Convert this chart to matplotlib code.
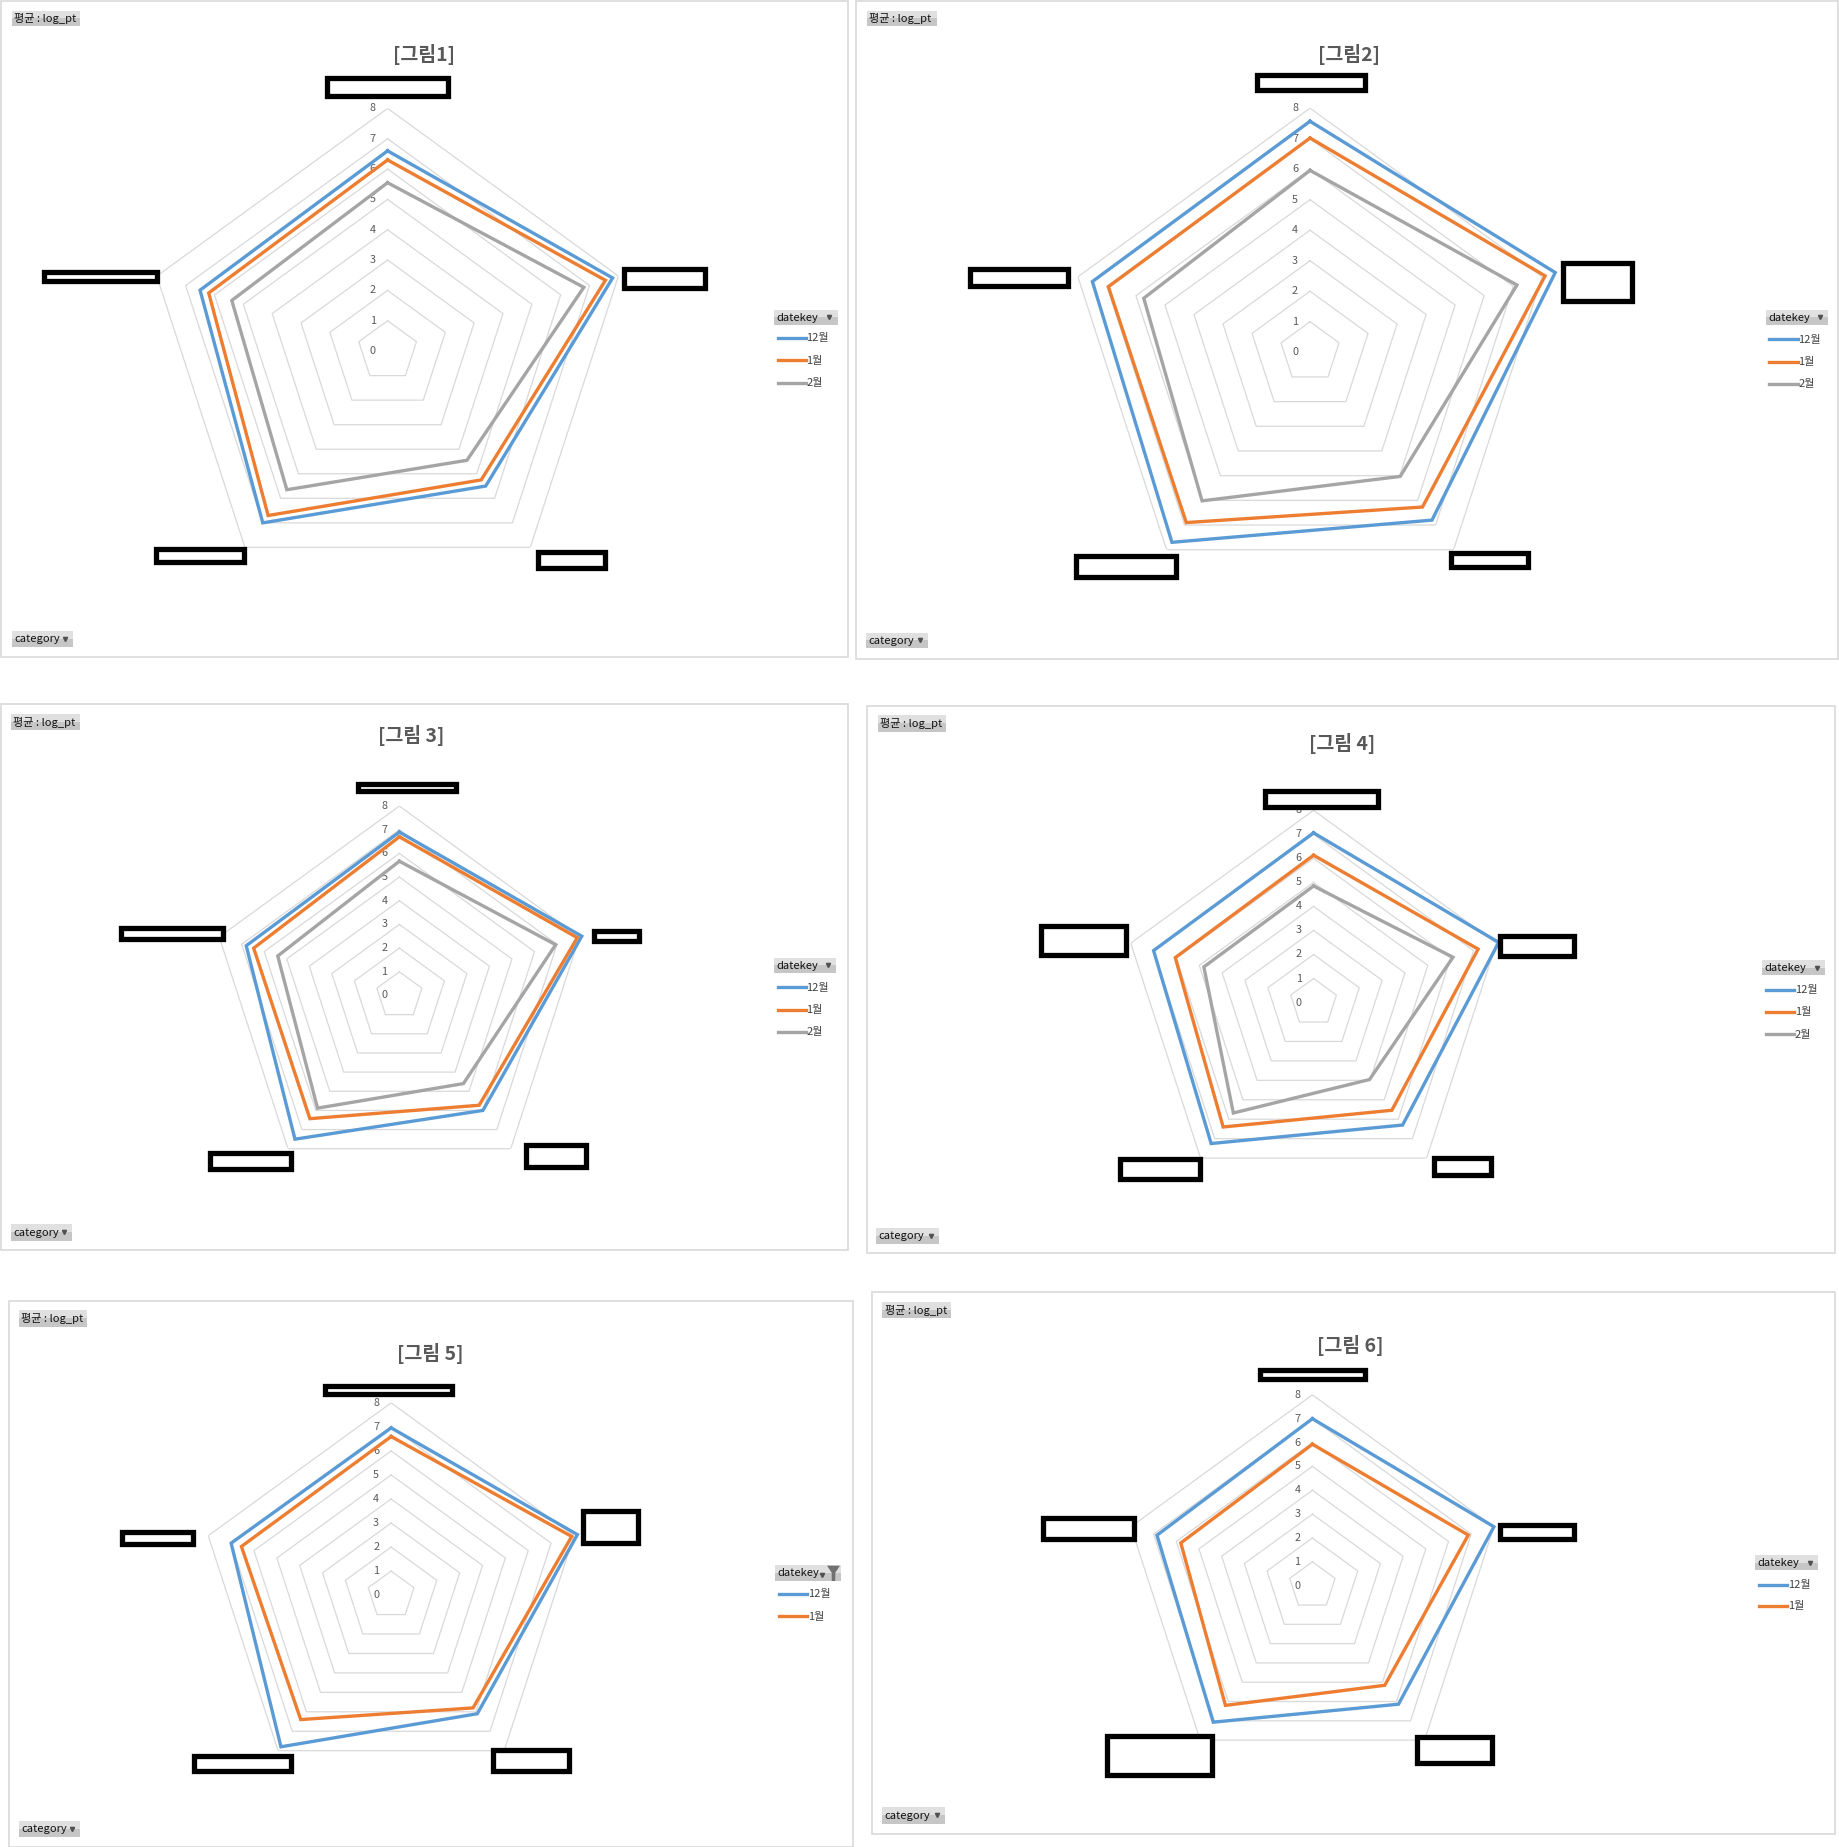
import numpy as np
import matplotlib.pyplot as plt
from matplotlib.patches import Rectangle, Polygon
from matplotlib.lines import Line2D

plt.rcParams['font.family'] = ['Noto Sans CJK KR', 'DejaVu Sans']

W, H = 1839, 1847
S = W / 1561  # layout below was measured on the 1561 px preview

months = ['12월', '1월', '2월']
colors = ['#5B9BD5', '#ED7D31', '#A5A5A5']
levels = list(range(0, 9))
titles = ['[그림1]', '[그림2]', '[그림 3]', '[그림 4]', '[그림 5]', '[그림 6]']

# avg log_pt per category, clockwise from the top axis
fig1_dec = [6.6, 7.8, 5.5, 7.0, 6.5]
fig1_jan = [6.3, 7.55, 5.25, 6.7, 6.2]
fig1_feb = [5.55, 6.8, 4.45, 5.65, 5.4]

fig2_dec = [7.57, 8.45, 6.8, 7.7, 7.5]
fig2_jan = [7.02, 8.1, 6.27, 6.9, 6.95]
fig2_feb = [5.96, 7.13, 5.03, 6.02, 5.73]

fig3_dec = [6.9, 8.1, 6.0, 7.5, 6.8]
fig3_jan = [6.7, 7.9, 5.73, 6.43, 6.47]
fig3_feb = [5.67, 6.94, 4.6, 5.88, 5.4]

fig4_dec = [7.06, 8.1, 6.3, 7.25, 7.0]
fig4_jan = [6.13, 7.2, 5.54, 6.4, 6.05]
fig4_feb = [4.85, 6.1, 3.96, 5.68, 4.8]

fig5_dec = [6.96, 8.15, 6.1, 7.8, 7.0]
fig5_jan = [6.6, 7.9, 5.8, 6.4, 6.55]

fig6_dec = [7.0, 8.0, 6.14, 7.07, 6.85]
fig6_jan = [5.93, 6.87, 5.16, 6.2, 5.8]

series = [
    [fig1_dec, fig1_jan, fig1_feb],
    [fig2_dec, fig2_jan, fig2_feb],
    [fig3_dec, fig3_jan, fig3_feb],
    [fig4_dec, fig4_jan, fig4_feb],
    [fig5_dec, fig5_jan],
    [fig6_dec, fig6_jan],
]

# panel layout in preview pixels
layout = [
    dict(frame=(1, 1, 720, 558), c=(329, 298), unit=25.75, title=(360, 46),
         pbtn=(10, 9, 68, 22), cbtn=(10, 536, 62, 549), dbtn=(657, 263, 711, 276),
         ly=[287, 306, 325], lx=660,
         hide=[(276, 65, 382, 83), (528, 227, 600, 246), (455, 467, 515, 484),
               (131, 464, 209, 479), (36, 229, 135, 240)]),
    dict(frame=(727, 1, 1560, 559), c=(1112, 299), unit=25.9, title=(1145, 46),
         pbtn=(736, 9, 795, 22), cbtn=(735, 537, 788, 550), dbtn=(1499, 263, 1552, 276),
         ly=[288, 307, 326], lx=1502,
         hide=[(1065, 62, 1160, 78), (1325, 222, 1387, 257), (1230, 468, 1299, 483),
               (912, 470, 1000, 491), (822, 227, 908, 244)]),
    dict(frame=(1, 598, 720, 1061), c=(339, 845), unit=20.1, title=(349, 624),
         pbtn=(9, 606, 68, 620), cbtn=(9, 1039, 61, 1053), dbtn=(657, 813, 710, 826),
         ly=[838, 857, 876], lx=660,
         hide=[(302, 664, 389, 673), (503, 789, 544, 800), (445, 970, 499, 992),
               (177, 977, 249, 994), (101, 786, 191, 799)]),
    dict(frame=(736, 599, 1558, 1064), c=(1115, 851), unit=20.4, title=(1139, 631),
         pbtn=(745, 607, 803, 621), cbtn=(744, 1042, 797, 1056), dbtn=(1496, 815, 1549, 828),
         ly=[840, 859, 878], lx=1499,
         hide=[(1072, 670, 1171, 687), (1272, 793, 1338, 813), (1216, 981, 1267, 999),
               (949, 982, 1020, 1002), (882, 784, 957, 812)]),
    dict(frame=(8, 1104, 724, 1568), c=(332, 1354), unit=20.4, title=(365, 1149),
         pbtn=(16, 1112, 74, 1126), cbtn=(16, 1546, 68, 1559), dbtn=(658, 1328, 714, 1342),
         ly=[1353, 1372], lx=661, funnel=True,
         hide=[(274, 1175, 385, 1185), (493, 1281, 543, 1311), (417, 1484, 485, 1505),
               (163, 1489, 249, 1505), (102, 1299, 165, 1312)]),
    dict(frame=(740, 1097, 1558, 1557), c=(1114, 1346), unit=20.25, title=(1146, 1142),
         pbtn=(749, 1105, 807, 1119), cbtn=(749, 1534, 802, 1548), dbtn=(1490, 1320, 1543, 1333),
         ly=[1345, 1363], lx=1493,
         hide=[(1068, 1161, 1160, 1172), (1272, 1293, 1338, 1308), (1201, 1473, 1268, 1498),
               (938, 1472, 1030, 1508), (884, 1287, 964, 1308)]),
]

fig = plt.figure(figsize=(W / 100, H / 100), dpi=100)


def fx(x):
    return x * S / W


def fy(y):
    return 1 - y * S / H


def rect(x0, y0, x1, y1, **kw):
    r = Rectangle((fx(x0), fy(y1)), fx(x1) - fx(x0), fy(y0) - fy(y1),
                  transform=fig.transFigure, **kw)
    fig.add_artist(r)


def button(x0, y0, x1, y1, label, arrow=True, funnel=False):
    ym = (y0 + y1) / 2
    rect(x0, y0, x1, ym, facecolor='#e0e0e0', edgecolor='none', zorder=5)
    rect(x0, ym, x1, y1, facecolor='#c6c6c6', edgecolor='none', zorder=5)
    fig.text(fx(x0 + 2), fy(ym + 0.3), label, fontsize=8, ha='left', va='center',
             color='#111111', zorder=6)
    if funnel:
        fig.add_artist(Line2D([fx(x1 - 16)], [fy(ym + 1.5)], marker='v', markersize=3,
                              color='#505050', transform=fig.transFigure, zorder=6))
        fig.add_artist(Polygon([(fx(x1 - 12), fy(y0 + 1)), (fx(x1 - 1), fy(y0 + 1)),
                                (fx(x1 - 5), fy(y0 + 7)), (fx(x1 - 5), fy(y1)),
                                (fx(x1 - 8), fy(y1)), (fx(x1 - 8), fy(y0 + 7))],
                               closed=True, facecolor='#707070', edgecolor='none',
                               transform=fig.transFigure, zorder=6))
    elif arrow:
        fig.add_artist(Line2D([fx(x1 - 7)], [fy(ym)], marker='v', markersize=3,
                              color='#505050', transform=fig.transFigure, zorder=6))


theta = np.deg2rad(np.arange(0, 360, 72))
theta_c = np.append(theta, theta[0])

for i, (lay, data) in enumerate(zip(layout, series)):
    x0, y0, x1, y1 = lay['frame']
    rect(x0, y0, x1, y1, facecolor='white', edgecolor='#d9d9d9', lw=1.2, zorder=0)

    cx, cy = lay['c']
    R = 8 * lay['unit']
    ax = fig.add_axes([fx(cx - R), fy(cy + R), fx(2 * R), fx(2 * R) * W / H],
                      projection='polar')
    ax.set_theta_zero_location('N')
    ax.set_theta_direction(-1)
    ax.set_ylim(0, 8)
    ax.set_axis_off()
    for k in levels[1:]:
        ax.plot(theta_c, [k] * 6, color='#d9d9d9', lw=0.9, zorder=1)
    for k in levels:
        ax.annotate(str(k), (0, k), xytext=(-15, 0), textcoords='offset pixels',
                    ha='center', va='center', fontsize=7.8, color='#595959')
    for vals, col in zip(data, colors):
        v = np.append(vals, vals[0])
        ax.plot(theta_c, v, color=col, lw=2.4, clip_on=False, zorder=3,
                solid_joinstyle='miter')

    tx, ty = lay['title']
    fig.text(fx(tx), fy(ty), titles[i], fontsize=14, fontweight='bold',
             color='#595959', ha='center', va='center')

    button(*lay['pbtn'], '평균 : log_pt', arrow=False)
    button(*lay['cbtn'], 'category')
    button(*lay['dbtn'], 'datekey', funnel=lay.get('funnel', False))

    lx = lay['lx']
    for yy, name, col in zip(lay['ly'], months[:len(data)], colors):
        fig.add_artist(Line2D([fx(lx), fx(lx + 24)], [fy(yy), fy(yy)], color=col,
                              lw=2.4, transform=fig.transFigure))
        fig.text(fx(lx + 24.5), fy(yy + 0.3), name, fontsize=8, color='#404040',
                 ha='left', va='center')

    # category labels are masked in the source image
    for bx0, by0, bx1, by1 in lay['hide']:
        rect(bx0 + 1.6, by0 + 1.6, bx1 - 1.6, by1 - 1.6, facecolor='white',
             edgecolor='black', lw=3.8, zorder=8)

fig.savefig('out.png', dpi=100, facecolor='white')
